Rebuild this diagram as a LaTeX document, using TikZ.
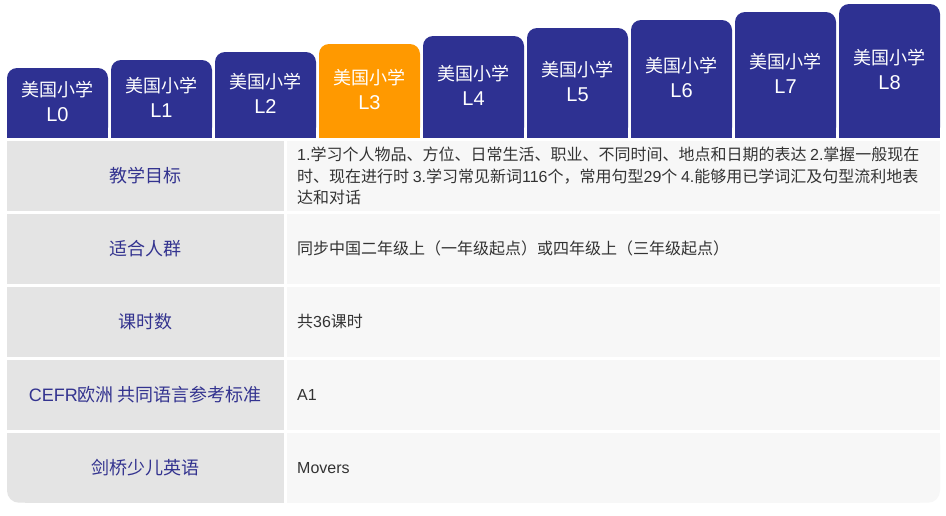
\documentclass[tikz,border=0pt]{standalone}
\usepackage{fontspec}
\setmainfont{Noto Sans CJK SC}
\newfontfamily\latf{Liberation Sans}
\definecolor{tabblue}{HTML}{2E3192}
\definecolor{taborange}{HTML}{FF9900}
\definecolor{cellgray}{HTML}{E4E4E4}
\definecolor{celllight}{HTML}{F7F7F7}
\definecolor{labelblue}{HTML}{33338F}
\definecolor{txtgray}{HTML}{333333}
\tikzset{
  tabtext/.style={text=white, align=center, inner sep=0pt, font=\fontsize{18}{25}\selectfont},
  labeltext/.style={text=labelblue, inner sep=0pt, font=\fontsize{18}{22}\selectfont},
  contenttext/.style={text=txtgray, inner sep=0pt, anchor=west, align=left, font=\fontsize{16}{21.5}\selectfont},
}
\begin{document}
\begin{tikzpicture}[x=1pt,y=-1pt]
\useasboundingbox (0,0) rectangle (946,515);
\fill[white] (0,0) rectangle (946,515);
% tabs
\foreach \i/\c in {0/tabblue,1/tabblue,2/tabblue,3/taborange,4/tabblue,5/tabblue,6/tabblue,7/tabblue,8/tabblue}{
  \pgfmathsetmacro\xl{7+104*\i}
  \pgfmathsetmacro\xr{108+104*\i}
  \pgfmathsetmacro\yt{68-8*\i}
  \pgfmathsetmacro\ym{(\yt+137.5)/2-1.5}
  \pgfmathsetmacro\xm{57.5+104*\i}
  \fill[\c, rounded corners=10pt] (\xl,\yt) rectangle (\xr,137.5);
  \fill[\c] (\xl,\yt+20) rectangle (\xr,137.5);
  \node[tabtext] (tab\i) at (\xm,\ym) {美国小学\\{\latf\fontsize{20}{24}\selectfont L\i}};
}
% table rows
\foreach \k in {0,1,2,3}{
  \pgfmathsetmacro\yt{141+73*\k}
  \pgfmathsetmacro\yb{141+73*\k+69.7}
  \fill[cellgray] (7,\yt) rectangle (283.7,\yb);
  \fill[celllight] (287,\yt) rectangle (940,\yb);
}
% last row with rounded bottom corners
\fill[cellgray, rounded corners=12pt] (7,433) rectangle (283.7,502.7);
\fill[cellgray] (7,433) rectangle (283.7,485);
\fill[cellgray] (25,433) rectangle (283.7,502.7);
\fill[celllight, rounded corners=12pt] (287,433) rectangle (940,502.7);
\fill[celllight] (287,433) rectangle (940,485);
\fill[celllight] (287,433) rectangle (920,502.7);
% labels
\node[labeltext] (lab1) at (145.35,175.85) {教学目标};
\node[labeltext] (lab2) at (145.35,248.85) {适合人群};
\node[labeltext] (lab3) at (145.35,321.85) {课时数};
\node[labeltext] (lab4) at (145.35,394.85) {{\latf CEFR}欧洲 共同语言参考标准};
\node[labeltext] (lab5) at (145.35,467.85) {剑桥少儿英语};
% contents
\node[contenttext] (con1) at (297,175.85) {{\latf 1.}学习个人物品、方位、日常生活、职业、不同时间、地点和日期的表达 {\latf 2.}掌握一般现在\\时、现在进行时 {\latf 3.}学习常见新词{\latf 116}个，常用句型{\latf 29}个 {\latf 4.}能够用已学词汇及句型流利地表\\达和对话};
\node[contenttext] (con2) at (297,248.85) {同步中国二年级上（一年级起点）或四年级上（三年级起点）};
\node[contenttext] (con3) at (297,321.85) {共{\latf 36}课时};
\node[contenttext] (con4) at (297,394.85) {\latf A1};
\node[contenttext] (con5) at (297,467.85) {\latf Movers};
\end{tikzpicture}
\end{document}
